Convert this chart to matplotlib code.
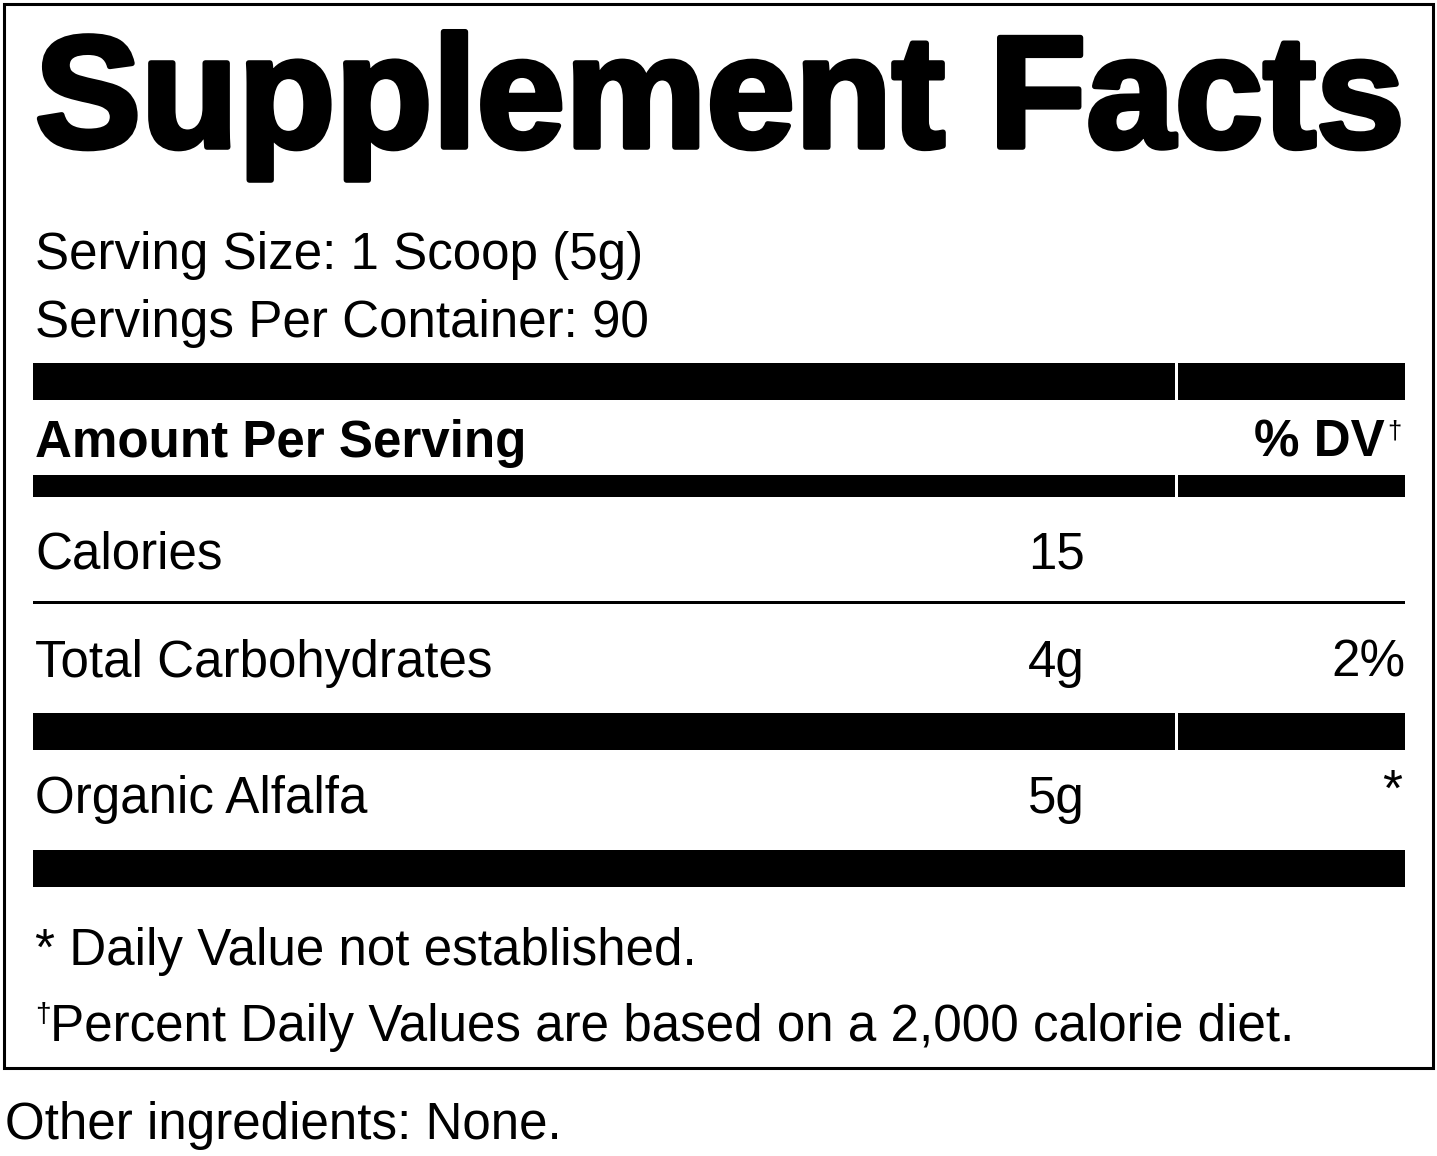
import matplotlib
matplotlib.use("Agg")
import matplotlib.pyplot as plt
from matplotlib.patches import Rectangle

W, H = 1437, 1156
FONT = "Liberation Sans"

title = "Supplement Facts"
serving = ["Serving Size: 1 Scoop (5g)", "Servings Per Container: 90"]
rows = ["Calories", "Total Carbohydrates", "Organic Alfalfa"]
amounts = ["15", "4g", "5g"]
dvs = ["", "2%", "*"]
notes = ["* Daily Value not established.",
         "Percent Daily Values are based on a 2,000 calorie diet."]
other = "Other ingredients: None."

fig = plt.figure(figsize=(W / 100, H / 100), dpi=100)
ax = fig.add_axes([0, 0, 1, 1])
ax.set_xlim(0, W); ax.set_ylim(H, 0); ax.axis("off")
fig.canvas.draw()
R = fig.canvas.get_renderer()


def fit(t, width):
    # scale font size so the text spans the target pixel width
    bb = t.get_window_extent(R)
    t.set_fontsize(t.get_fontsize() * width / bb.width)


ax.add_patch(Rectangle((4, 4), 1429, 1064, fill=False, lw=2.2, ec="black"))

t = ax.text(35, 147, title, fontsize=100, fontweight="bold", family=FONT,
            va="baseline", path_effects=None)
fit(t, 1370)
import matplotlib.patheffects as pe
t.set_path_effects([pe.withStroke(linewidth=4, foreground="black")])

body = ax.text(35, 256, serving[0], fontsize=40, family=FONT, va="center")
fit(body, 607)
fs = body.get_fontsize()
ax.text(35, 323, serving[1], fontsize=fs, family=FONT, va="center")


def bar(y0, y1, gap=True):
    if gap:
        ax.add_patch(Rectangle((33, y0), 1142, y1 - y0, color="black", lw=0))
        ax.add_patch(Rectangle((1178, y0), 1405 - 1178, y1 - y0, color="black", lw=0))
    else:
        ax.add_patch(Rectangle((33, y0), 1372, y1 - y0, color="black", lw=0))


bar(363, 400)
ax.text(35, 443, "Amount Per Serving", fontsize=fs, fontweight="bold", family=FONT, va="center")
ax.text(1385, 443, "% DV", fontsize=fs, fontweight="bold", family=FONT, va="center", ha="right")
ax.text(1387, 431, "†", fontsize=fs * 0.5, family=FONT, va="center", ha="left")
bar(475, 497)

ys = [555, 663, 800]
for name, amt, dv, y in zip(rows, amounts, dvs, ys):
    ax.text(35, y, name, fontsize=fs, family=FONT, va="center")
    ax.text(1028, y, amt, fontsize=fs, family=FONT, va="center")
    if dv == "*":
        ax.text(1402, y - 8, dv, fontsize=fs, family=FONT, va="center", ha="right")
    elif dv:
        ax.text(1405, y, dv, fontsize=fs, family=FONT, va="center", ha="right")

ax.add_patch(Rectangle((33, 601), 1372, 3, color="black", lw=0))
bar(713, 750)
bar(850, 887, gap=False)

ax.text(35, 951, notes[0], fontsize=fs, family=FONT, va="center")
ax.text(35, 1015, "†", fontsize=fs * 0.55, family=FONT, va="center")
ax.text(50, 1027, notes[1], fontsize=fs, family=FONT, va="center")
ax.text(5, 1125, other, fontsize=fs, family=FONT, va="center")

fig.savefig("out.png", dpi=100, facecolor="white")
